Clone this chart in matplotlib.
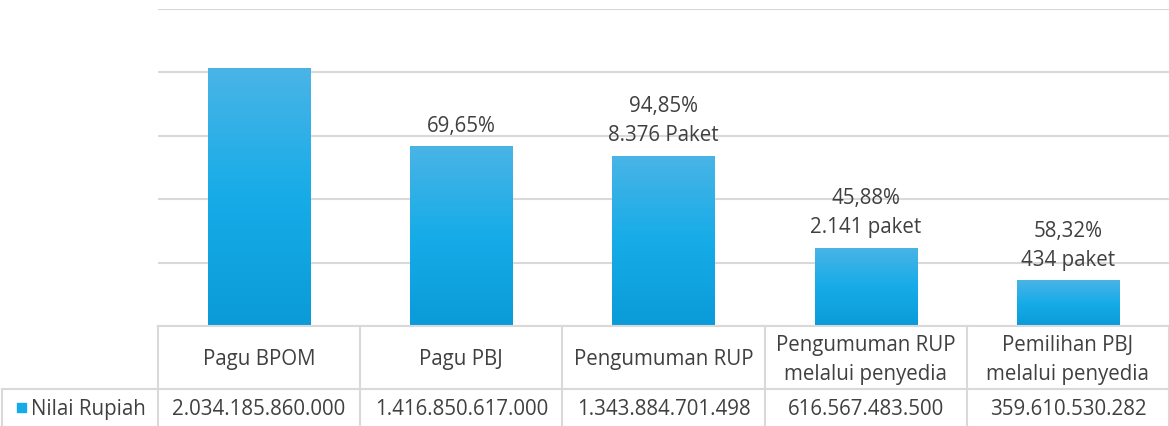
import numpy as np
import matplotlib.pyplot as plt
from matplotlib.colors import LinearSegmentedColormap

categories = ["Pagu BPOM", "Pagu PBJ", "Pengumuman RUP",
              "Pengumuman RUP\nmelalui penyedia", "Pemilihan PBJ\nmelalui penyedia"]
nilai = [2034185860000, 1416850617000, 1343884701498, 616567483500, 359610530282]
nilai_text = ["2.034.185.860.000", "1.416.850.617.000", "1.343.884.701.498",
              "616.567.483.500", "359.610.530.282"]
bar_labels = ["", "69,65%", "94,85%\n8.376 Paket", "45,88%\n2.141 paket", "58,32%\n434 paket"]
series_name = "Nilai Rupiah"

plt.rcParams['font.family'] = ['Open Sans', 'DejaVu Sans']
txt_color = '#404040'
grid_color = '#d9d9d9'
fs = 14.8

W, H = 1169, 427
fig = plt.figure(figsize=(W/100, H/100), dpi=100)
ax = fig.add_axes([158/W, 1-327/H, 1-158/W, 317/H])

x = np.arange(len(categories))
bars = ax.bar(x, nilai, width=0.505, color='#16abe8', zorder=2)

# gradient fill like the excel bars
cmap = LinearSegmentedColormap.from_list('g', ['#0a9bd8', '#16ace8', '#4ab4e6'])
grad = np.linspace(0, 1, 256).reshape(-1, 1)
for b in bars:
    bx, bw, bh = b.get_x(), b.get_width(), b.get_height()
    im = ax.imshow(grad, cmap=cmap, origin='lower', aspect='auto',
                   extent=(bx, bx+bw, 0, bh), zorder=3)
    im.set_clip_path(b)

ax.set_xlim(-0.5, len(categories)-0.5)
ax.set_ylim(0, 2.5e12)
ax.set_yticks(np.arange(0, 2.6e12, 0.5e12))
ax.yaxis.grid(True, color=grid_color, lw=1.5, zorder=0)
ax.tick_params(left=False, bottom=False, labelleft=False, labelbottom=False)
for s in ax.spines.values():
    s.set_visible(False)

for xi, v, lab in zip(x, nilai, bar_labels):
    if lab:
        ax.annotate(lab, (xi, v), xytext=(0, 7.5), textcoords='offset points',
                    ha='center', va='bottom', fontsize=fs, color=txt_color,
                    linespacing=1.5)

# data table below the plot
row1 = 390
def fy(py):
    return 1 - py/H
def fx(px):
    return px/W
lk = dict(color=grid_color, lw=1.5, transform=fig.transFigure)
fig.add_artist(plt.Line2D([fx(158), 1], [fy(327), fy(327)], **lk))
fig.add_artist(plt.Line2D([fx(2), 1], [fy(row1), fy(row1)], **lk))
fig.add_artist(plt.Line2D([fx(2), fx(2)], [fy(row1), 0], **lk))
col_w = (W - 158) / len(categories)
for i in range(len(categories) + 1):
    px = 158 + i*col_w
    fig.add_artist(plt.Line2D([fx(px), fx(px)], [fy(327), 0], **lk))
for i, (c, t) in enumerate(zip(categories, nilai_text)):
    cx = fx(158 + (i+0.5)*col_w)
    fig.text(cx, fy(360), c, ha='center', va='center', fontsize=fs,
             color=txt_color, linespacing=1.5)
    fig.text(cx, fy(410), t, ha='center', va='center', fontsize=fs, color=txt_color)

fig.add_artist(plt.Rectangle((fx(17), fy(413)), 9/W, 9/H, transform=fig.transFigure,
                             color='#16abe8'))
fig.text(fx(31), fy(410), series_name, ha='left', va='center', fontsize=fs, color=txt_color)

fig.savefig('out.png', dpi=100)
